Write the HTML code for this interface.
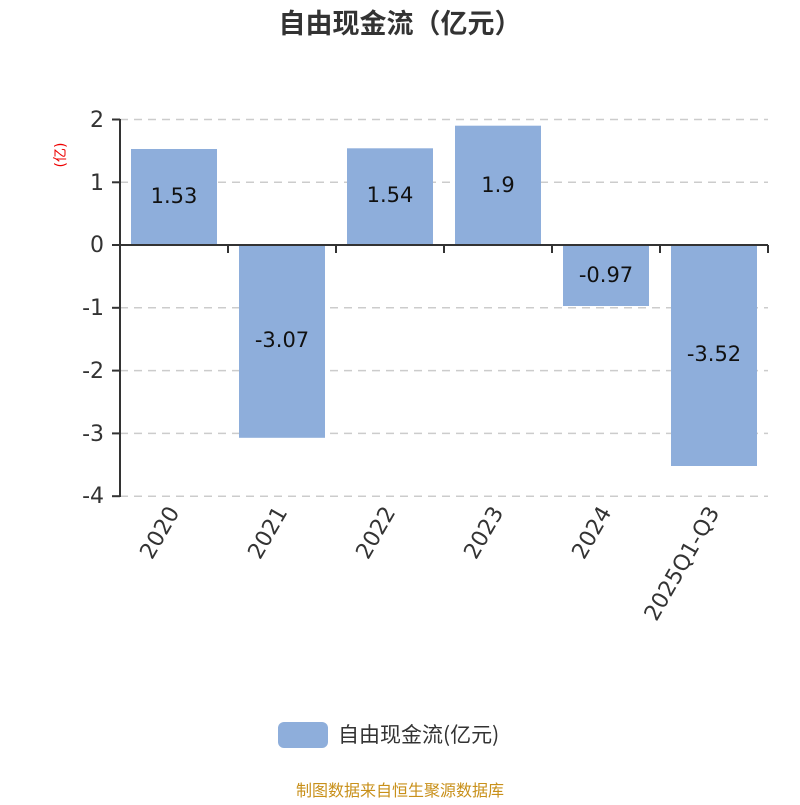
<!DOCTYPE html>
<html><head><meta charset="utf-8"><style>body{margin:0;background:#fff}</style></head><body>
<svg width="800" height="800" xmlns="http://www.w3.org/2000/svg" font-family="'DejaVu Sans','Noto Sans CJK SC',sans-serif">
<text x="400" y="33" text-anchor="middle" font-size="27" font-weight="bold" fill="#333" font-family="'Noto Sans CJK SC',sans-serif">自由现金流（亿元）</text>
<text x="65" y="155" font-size="14" fill="#e00" transform="rotate(-90 65 155)" text-anchor="middle">(亿)</text>
<g stroke="#ccc" stroke-dasharray="8,6" stroke-width="1.5">
<line x1="120" y1="119.5" x2="768" y2="119.5"/><line x1="120" y1="182.3" x2="768" y2="182.3"/>
<line x1="120" y1="307.8" x2="768" y2="307.8"/><line x1="120" y1="370.6" x2="768" y2="370.6"/>
<line x1="120" y1="433.4" x2="768" y2="433.4"/><line x1="120" y1="496.2" x2="768" y2="496.2"/>
</g>
<g fill="#8eaedb">
<rect x="131" y="149" width="86" height="96"/>
<rect x="239" y="245" width="86" height="192.8"/>
<rect x="347" y="148.3" width="86" height="96.7"/>
<rect x="455" y="125.7" width="86" height="119.3"/>
<rect x="563" y="245" width="86" height="61"/>
<rect x="671" y="245" width="86" height="221"/>
</g>
<g stroke="#333" stroke-width="2">
<line x1="120" y1="119" x2="120" y2="497"/>
<line x1="120" y1="245" x2="768" y2="245"/>
<line x1="112" y1="119.5" x2="120" y2="119.5"/><line x1="112" y1="182.3" x2="120" y2="182.3"/>
<line x1="112" y1="245" x2="120" y2="245"/><line x1="112" y1="307.8" x2="120" y2="307.8"/>
<line x1="112" y1="370.6" x2="120" y2="370.6"/><line x1="112" y1="433.4" x2="120" y2="433.4"/>
<line x1="112" y1="496.2" x2="120" y2="496.2"/>
<line x1="228" y1="245" x2="228" y2="253"/><line x1="336" y1="245" x2="336" y2="253"/>
<line x1="444" y1="245" x2="444" y2="253"/><line x1="552" y1="245" x2="552" y2="253"/>
<line x1="660" y1="245" x2="660" y2="253"/><line x1="768" y1="245" x2="768" y2="253"/>
</g>
<g font-size="22" fill="#333" text-anchor="end">
<text x="104" y="127">2</text><text x="104" y="190">1</text><text x="104" y="252">0</text>
<text x="104" y="315">-1</text><text x="104" y="378">-2</text><text x="104" y="441">-3</text><text x="104" y="503">-4</text>
</g>
<g font-size="21" fill="#111" text-anchor="middle">
<text x="174" y="203">1.53</text><text x="282" y="347">-3.07</text><text x="390" y="202">1.54</text>
<text x="498" y="192">1.9</text><text x="606" y="282">-0.97</text><text x="714" y="361">-3.52</text>
</g>
<g font-size="22" fill="#333" text-anchor="end">
<text transform="translate(180,512) rotate(-60)">2020</text>
<text transform="translate(288,512) rotate(-60)">2021</text>
<text transform="translate(396,512) rotate(-60)">2022</text>
<text transform="translate(504,512) rotate(-60)">2023</text>
<text transform="translate(612,512) rotate(-60)">2024</text>
<text transform="translate(720,512) rotate(-60)">2025Q1-Q3</text>
</g>
<rect x="278" y="722" width="50" height="26" rx="6" fill="#8eaedb"/>
<text x="338" y="742" font-size="21" fill="#333" font-family="'Noto Sans CJK SC',sans-serif">自由现金流(亿元)</text>
<text x="400" y="796" text-anchor="middle" font-size="16" fill="#c8901a" font-family="'Noto Sans CJK SC',sans-serif">制图数据来自恒生聚源数据库</text>
</svg>
</body></html>
